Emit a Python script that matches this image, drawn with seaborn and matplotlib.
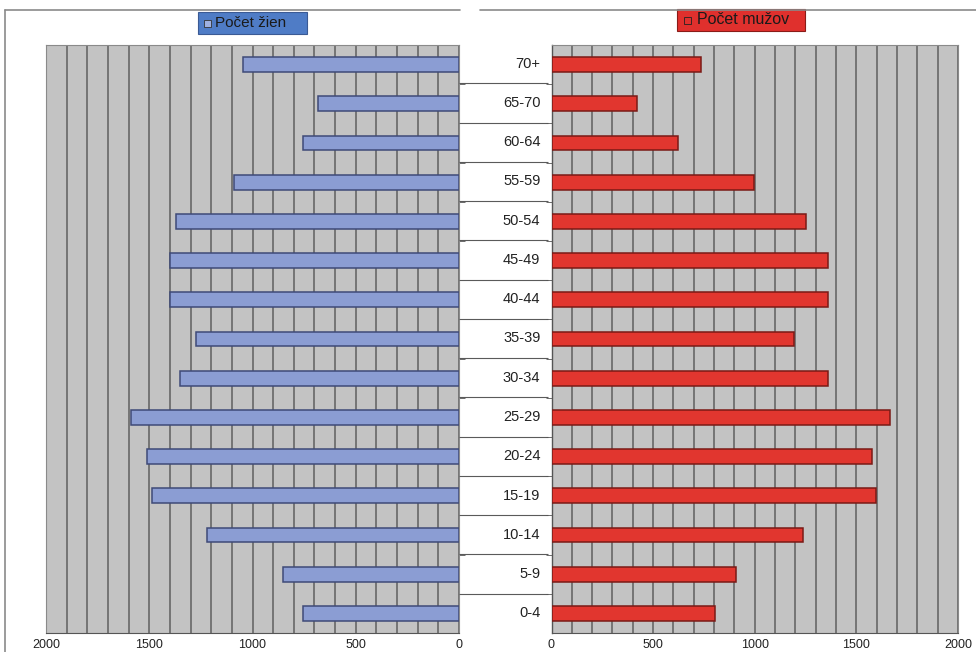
import numpy as np
import pandas as pd
import matplotlib
matplotlib.use("Agg")
import matplotlib.pyplot as plt
from matplotlib.patches import Rectangle
from matplotlib.lines import Line2D
import seaborn as sns

# age groups, top to bottom
ages = ["70+", "65-70", "60-64", "55-59", "50-54", "45-49", "40-44", "35-39",
        "30-34", "25-29", "20-24", "15-19", "10-14", "5-9", "0-4"]
# Počet žien (women)
women = [1047, 684, 757, 1091, 1370, 1400, 1400, 1274,
         1350, 1588, 1512, 1487, 1220, 854, 757]
# Počet mužov (men)
men = [738, 423, 623, 995, 1254, 1361, 1361, 1193,
       1361, 1664, 1579, 1595, 1238, 910, 803]
xticks = [0, 500, 1000, 1500, 2000]

df = pd.DataFrame({"age": ages, "women": women, "men": men})

sns.set_style("white")
plt.rcParams["font.family"] = ["Liberation Sans", "DejaVu Sans"]

BG = "#c3c3c3"
GRID = "#6e6e6e"
BLUE = "#8b9dd3"
BLUE_EDGE = "#3f4a78"
RED = "#e1362f"
RED_EDGE = "#7a1a16"

W, H = 976, 652
fig = plt.figure(figsize=(W / 100, H / 100), dpi=100)
fig.patch.set_facecolor("white")

def frac(x0, y0, x1, y1):
    return [x0 / W, 1 - y1 / H, (x1 - x0) / W, (y1 - y0) / H]

axL = fig.add_axes(frac(46, 45, 459, 633))
axM = fig.add_axes(frac(459, 44, 551.5, 633))
axR = fig.add_axes(frac(551.5, 45, 958, 633))

for ax, col, color, edge in [(axL, "women", BLUE, BLUE_EDGE), (axR, "men", RED, RED_EDGE)]:
    ax.set_facecolor(BG)
    sns.barplot(data=df, x=col, y="age", order=ages, orient="h", color=color,
                edgecolor=edge, linewidth=1.1, width=0.38, saturation=1, ax=ax, zorder=3)
    ax.set_xlim(0, 2000)
    ax.set_ylim(14.5, -0.5)
    ax.set_xticks(xticks)
    ax.set_xticklabels([str(t) for t in xticks], fontsize=9, color="#222222")
    ax.set_xticks(np.arange(0, 2001, 100), minor=True)
    ax.grid(True, axis="x", which="minor", color=GRID, lw=1.3, zorder=0)
    ax.grid(True, axis="x", which="major", color=GRID, lw=1.3, zorder=0)
    ax.set_axisbelow(True)
    ax.tick_params(axis="x", which="major", direction="out", length=3, width=0.8,
                   color="#555555", pad=1.5)
    ax.tick_params(axis="x", which="minor", length=0)
    ax.set_yticks([])
    ax.set_yticks(np.arange(14) + 0.5, minor=True)
    ax.set_xlabel("")
    ax.set_ylabel("")
    for s in ax.spines.values():
        s.set_color("#8a8a8a")
        s.set_linewidth(0.8)
    ax.spines["bottom"].set_color("#555555")

axL.invert_xaxis()
axL.tick_params(axis="y", which="minor", direction="out", length=4, color="#555555",
                left=False, right=True)
axR.tick_params(axis="y", which="minor", direction="out", length=4, color="#555555",
                left=True, right=False)
axR.spines["left"].set_color("#555555")
axR.spines["left"].set_linewidth(1.0)

# middle column with age labels
axM.set_xlim(0, 1)
axM.set_ylim(14.5, -0.5)
axM.set_facecolor("white")
axM.axis("off")
axM.hlines(np.arange(14) + 0.5, 0.0, 0.96, color="#5a5a5a", lw=0.8)
for i, a in enumerate(ages):
    axM.text(0.88, i, a, ha="right", va="center", fontsize=10.5, color="#222222")

# legend boxes
fig.add_artist(Rectangle((198 / W, 1 - 34 / H), 109 / W, 22 / H, transform=fig.transFigure,
                         facecolor="#4f7cc6", edgecolor="#3b5a94", lw=0.8))
fig.add_artist(Rectangle((204 / W, 1 - 27 / H), 7 / W, 7 / H, transform=fig.transFigure,
                         facecolor="#9fb0e0", edgecolor="#333333", lw=0.6))
fig.text(215 / W, 1 - 23 / H, "Počet žien", ha="left", va="center", fontsize=11,
         color="#1a1a1a")
fig.add_artist(Rectangle((677 / W, 1 - 31 / H), 128 / W, 22 / H, transform=fig.transFigure,
                         facecolor="#e0302d", edgecolor="#8a1c18", lw=0.8))
fig.add_artist(Rectangle((684 / W, 1 - 24 / H), 7 / W, 7 / H, transform=fig.transFigure,
                         facecolor="#e0302d", edgecolor="#222222", lw=0.6))
fig.text(697 / W, 1 - 20 / H, "Počet mužov", ha="left", va="center", fontsize=11.5,
         color="#1a1a1a")

# outer frame lines
fig.add_artist(Line2D([5 / W, 460 / W], [1 - 10 / H, 1 - 10 / H], color="#8a8a8a", lw=1.2,
                      transform=fig.transFigure))
fig.add_artist(Line2D([480 / W, 1.0], [1 - 10 / H, 1 - 10 / H], color="#8a8a8a", lw=1.2,
                      transform=fig.transFigure))
fig.add_artist(Line2D([5 / W, 5 / W], [0, 1 - 10 / H], color="#8a8a8a", lw=1.2,
                      transform=fig.transFigure))

fig.savefig("out.png", dpi=100, facecolor="white")
